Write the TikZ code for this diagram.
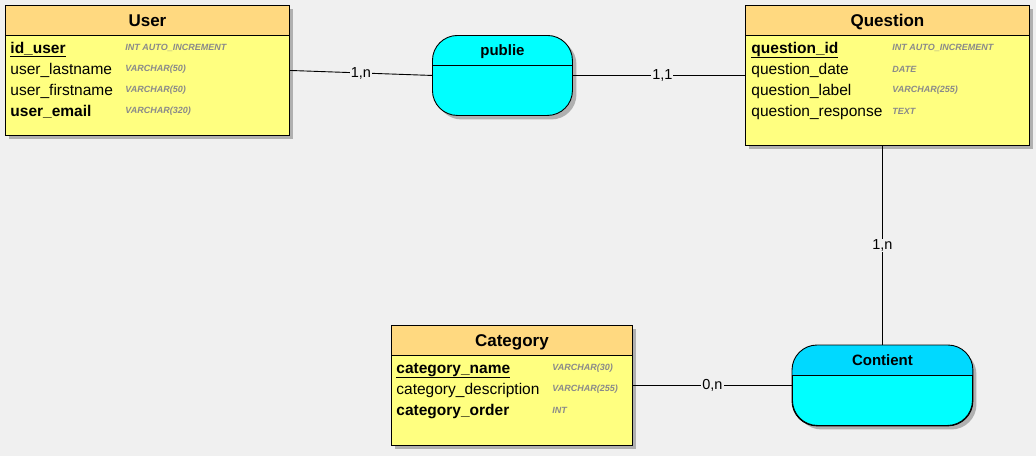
\documentclass[tikz,border=0pt]{standalone}
\usepackage{fontspec}
\setmainfont{Liberation Sans}
\usepackage{xcolor}
\usetikzlibrary{positioning,shadows}
\definecolor{bgcol}{HTML}{F0F0F0}
\definecolor{headyellow}{HTML}{FFD980}
\definecolor{bodyyellow}{HTML}{FFFF80}
\definecolor{assoccyan}{HTML}{00FFFF}
\definecolor{headcyan}{HTML}{00D9FF}
\definecolor{typegray}{HTML}{8A8A8A}
\definecolor{shadowgray}{HTML}{B0B0B0}

\begin{document}
\begin{tikzpicture}[x=1pt,y=-1pt,line width=0.9pt,
  entity/.style={draw,fill=bodyyellow,anchor=north west,inner sep=0pt,
    drop shadow={shadow xshift=4pt,shadow yshift=-4pt,fill=shadowgray,opacity=1}},
  entity head/.style={draw,fill=headyellow,anchor=north west,inner sep=0pt,
    minimum height=30pt,text height=14pt,text depth=2pt,
    font=\fontsize{17}{19}\selectfont\bfseries},
  field/.style={anchor=west,inner sep=0pt,yshift=-2pt,text height=11pt,text depth=3pt,
    font=\fontsize{15.5}{17}\selectfont},
  ftype/.style={anchor=west,inner sep=0pt,yshift=-1pt,text=typegray,
    font=\fontsize{9}{11}\selectfont\bfseries\itshape},
  assoc/.style={draw,fill=assoccyan,rounded corners=25pt,anchor=north west,
    inner sep=0pt,minimum width=140pt,minimum height=80pt,
    drop shadow={shadow xshift=4pt,shadow yshift=-4pt,fill=shadowgray,opacity=1}},
  assoc title/.style={inner sep=0pt,text height=11pt,text depth=3pt,
    font=\fontsize{15}{17}\selectfont\bfseries},
  card/.style={fill=bgcol,inner sep=1pt,font=\fontsize{14.5}{16}\selectfont}]

  \useasboundingbox[fill=bgcol] (0,0) rectangle (1036,456);

  % User
  \node[entity,minimum width=284pt,minimum height=130pt] (user) at (5,5) {};
  \node[entity head,minimum width=284pt] (userhead) at (user.north west) {User};
  \node[field] (iduser) at (10,47) {\textbf{\underline{id\_user}}};
  \node[field] (lastname) at (10,68) {user\_lastname};
  \node[field] (firstname) at (10,89) {user\_firstname};
  \node[field] (email) at (10,110) {\textbf{user\_email}};
  \node[ftype] (iduserT) at (125,47) {INT AUTO\_INCREMENT};
  \node[ftype] (lastnameT) at (125,68) {VARCHAR(50)};
  \node[ftype] (firstnameT) at (125,89) {VARCHAR(50)};
  \node[ftype] (emailT) at (125,110) {VARCHAR(320)};

  % Question
  \node[entity,minimum width=284pt,minimum height=140pt] (question) at (745,5) {};
  \node[entity head,minimum width=284pt] (questionhead) at (question.north west) {Question};
  \node[field] (qid) at (751,47) {\textbf{\underline{question\_id}}};
  \node[field] (qdate) at (751,68) {question\_date};
  \node[field] (qlabel) at (751,89) {question\_label};
  \node[field] (qresp) at (751,110) {question\_response};
  \node[ftype] (qidT) at (892,47) {INT AUTO\_INCREMENT};
  \node[ftype] (qdateT) at (892,68) {DATE};
  \node[ftype] (qlabelT) at (892,89) {VARCHAR(255)};
  \node[ftype] (qrespT) at (892,110) {TEXT};

  % Category
  \node[entity,minimum width=241pt,minimum height=120pt] (category) at (391,325) {};
  \node[entity head,minimum width=241pt] (categoryhead) at (category.north west) {Category};
  \node[field] (cname) at (396,367) {\textbf{\underline{category\_name}}};
  \node[field] (cdesc) at (396,388) {category\_description};
  \node[field] (corder) at (396,409) {\textbf{category\_order}};
  \node[ftype] (cnameT) at (552,367) {VARCHAR(30)};
  \node[ftype] (cdescT) at (552,388) {VARCHAR(255)};
  \node[ftype] (corderT) at (552,409) {INT};

  % associations
  \node[assoc] (publie) at (432,35) {};
  \draw ([yshift=-30pt]publie.north west) -- ([yshift=-30pt]publie.north east);
  \node[assoc title] (publietitle) at ([yshift=-16pt]publie.north) {publie};

  \node[assoc,minimum width=180pt] (contient) at (792,345) {};
  \begin{scope}
    \clip (contient.north west) rectangle ([yshift=-30pt]contient.north east);
    \fill[headcyan,rounded corners=25pt] (contient.north west) rectangle (contient.south east);
  \end{scope}
  \draw[rounded corners=25pt] (contient.north west) rectangle (contient.south east);
  \draw ([yshift=-30pt]contient.north west) -- ([yshift=-30pt]contient.north east);
  \node[assoc title] (contienttitle) at ([yshift=-16pt]contient.north) {Contient};

  % links
  \draw (user.east) -- node[card] {1,n} (publie.west);
  \draw (publie.east) -- node[card,pos=0.52] {1,1} (question.west);
  \draw (contient.north) -- node[card] {1,n} (contient.north |- question.south);
  \draw (category.east) -- node[card] {0,n} (contient.west);
\end{tikzpicture}
\end{document}
